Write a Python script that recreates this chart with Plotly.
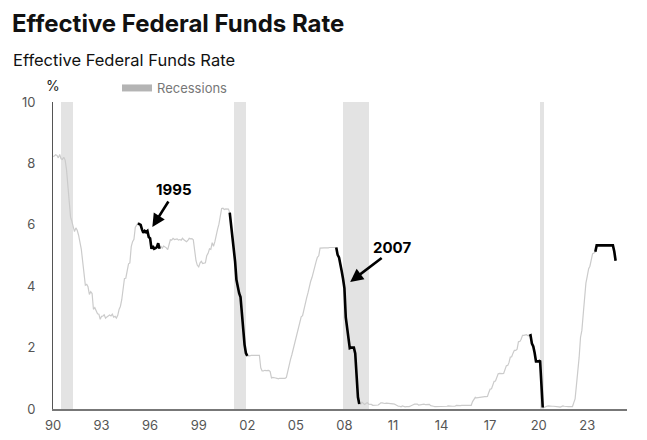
import pandas as pd
import plotly.graph_objects as go

# Monthly effective federal funds rate (%), Jan 1990 - Oct 2024
start_month = "1990-01-01"
rate = [
    8.23, 8.24, 8.28, 8.26, 8.18, 8.29, 8.15, 8.13, 8.20, 8.11, 7.81, 7.31,  # 1990
    6.91, 6.25, 6.12, 5.91, 5.78, 5.90, 5.82, 5.66, 5.45, 5.21, 4.81, 4.43,  # 1991
    4.03, 4.06, 3.98, 3.73, 3.82, 3.76, 3.25, 3.30, 3.22, 3.10, 3.09, 2.92,  # 1992
    3.02, 3.03, 3.07, 2.96, 3.00, 3.04, 3.06, 3.03, 3.09, 2.99, 3.02, 2.96,  # 1993
    3.05, 3.25, 3.34, 3.56, 4.01, 4.25, 4.26, 4.47, 4.73, 4.76, 5.29, 5.45,  # 1994
    5.53, 5.92, 5.98, 6.05, 6.01, 6.00, 5.85, 5.74, 5.80, 5.76, 5.80, 5.60,  # 1995
    5.56, 5.22, 5.31, 5.22, 5.24, 5.27, 5.40, 5.22, 5.30, 5.24, 5.31, 5.29,  # 1996
    5.25, 5.19, 5.39, 5.51, 5.50, 5.56, 5.52, 5.54, 5.54, 5.50, 5.52, 5.50,  # 1997
    5.56, 5.51, 5.49, 5.45, 5.49, 5.56, 5.54, 5.55, 5.51, 5.07, 4.83, 4.68,  # 1998
    4.63, 4.76, 4.81, 4.74, 4.74, 4.76, 4.99, 5.07, 5.22, 5.20, 5.42, 5.30,  # 1999
    5.45, 5.73, 5.85, 6.02, 6.27, 6.53, 6.54, 6.50, 6.52, 6.51, 6.51, 6.40,  # 2000
    5.98, 5.49, 5.31, 4.80, 4.21, 3.97, 3.77, 3.65, 3.07, 2.49, 2.09, 1.82,  # 2001
    1.73, 1.74, 1.73, 1.75, 1.75, 1.75, 1.73, 1.74, 1.75, 1.75, 1.34, 1.24,  # 2002
    1.24, 1.26, 1.25, 1.26, 1.26, 1.22, 1.01, 1.03, 1.01, 1.01, 1.00, 0.98,  # 2003
    1.00, 1.01, 1.00, 1.00, 1.00, 1.03, 1.26, 1.43, 1.61, 1.76, 1.93, 2.16,  # 2004
    2.28, 2.50, 2.63, 2.79, 3.00, 3.04, 3.26, 3.50, 3.62, 3.78, 4.00, 4.16,  # 2005
    4.29, 4.49, 4.59, 4.79, 4.94, 4.99, 5.24, 5.25, 5.25, 5.25, 5.25, 5.24,  # 2006
    5.25, 5.26, 5.26, 5.25, 5.25, 5.25, 5.26, 5.02, 4.94, 4.76, 4.49, 4.24,  # 2007
    3.94, 2.98, 2.61, 2.28, 1.98, 2.00, 2.01, 2.00, 1.81, 0.97, 0.39, 0.16,  # 2008
    0.15, 0.22, 0.18, 0.15, 0.18, 0.21, 0.16, 0.16, 0.15, 0.12, 0.12, 0.12,  # 2009
    0.11, 0.13, 0.16, 0.20, 0.20, 0.18, 0.18, 0.19, 0.19, 0.19, 0.19, 0.18,  # 2010
    0.17, 0.16, 0.14, 0.10, 0.09, 0.09, 0.07, 0.10, 0.08, 0.07, 0.08, 0.07,  # 2011
    0.08, 0.10, 0.13, 0.14, 0.16, 0.16, 0.16, 0.13, 0.14, 0.16, 0.16, 0.16,  # 2012
    0.14, 0.15, 0.14, 0.15, 0.11, 0.09, 0.09, 0.08, 0.08, 0.09, 0.08, 0.09,  # 2013
    0.07, 0.07, 0.08, 0.09, 0.09, 0.10, 0.09, 0.09, 0.09, 0.09, 0.09, 0.12,  # 2014
    0.11, 0.11, 0.11, 0.12, 0.12, 0.13, 0.13, 0.14, 0.14, 0.12, 0.12, 0.24,  # 2015
    0.34, 0.38, 0.36, 0.37, 0.37, 0.38, 0.39, 0.40, 0.40, 0.40, 0.41, 0.54,  # 2016
    0.65, 0.66, 0.79, 0.90, 0.91, 1.04, 1.15, 1.16, 1.15, 1.15, 1.16, 1.30,  # 2017
    1.41, 1.42, 1.51, 1.69, 1.70, 1.82, 1.91, 1.91, 1.95, 2.19, 2.20, 2.27,  # 2018
    2.40, 2.40, 2.41, 2.42, 2.39, 2.38, 2.40, 2.13, 2.04, 1.83, 1.55, 1.55,  # 2019
    1.55, 1.58, 0.65, 0.05, 0.05, 0.08, 0.09, 0.10, 0.09, 0.09, 0.09, 0.09,  # 2020
    0.09, 0.08, 0.07, 0.07, 0.06, 0.08, 0.10, 0.09, 0.08, 0.08, 0.08, 0.08,  # 2021
    0.08, 0.08, 0.20, 0.33, 0.77, 1.21, 1.68, 2.33, 2.56, 3.08, 3.78, 4.10,  # 2022
    4.33, 4.57, 4.65, 4.83, 5.06, 5.08, 5.12, 5.33, 5.33, 5.33, 5.33, 5.33,  # 2023
    5.33, 5.33, 5.33, 5.33, 5.33, 5.33, 5.33, 5.33, 5.13, 4.83,              # 2024
]

# Highlighted easing periods (drawn in black)
easing_periods = [
    ("1995-04-01", "1996-08-01"),
    ("2000-12-01", "2002-01-01"),
    ("2007-07-01", "2008-12-01"),
    ("2019-06-01", "2020-04-01"),
    ("2023-07-01", "2024-10-01"),
]

# NBER recessions
recessions = [
    ("1990-07-01", "1991-03-31"),
    ("2001-03-01", "2001-11-30"),
    ("2007-12-01", "2009-06-30"),
    ("2020-02-01", "2020-04-30"),
]

# Callouts: label, arrow head (date, value)
callouts = [
    ("1995", "1996-02-20", 5.93),
    ("2007", "2008-05-10", 4.14),
]

tick_years = [1990, 1993, 1996, 1999, 2002, 2005, 2008, 2011, 2014, 2017, 2020, 2023]
tick_labels = ["90", "93", "96", "99", "02", "05", "08", "11", "14", "17", "20", "23"]
y_ticks = [0, 2, 4, 6, 8, 10]

dates = pd.date_range(start_month, periods=len(rate), freq="MS")
df = pd.DataFrame({"date": dates, "rate": rate})

fig = go.Figure()

# Recession bars
rec_start = pd.to_datetime([r[0] for r in recessions])
rec_end = pd.to_datetime([r[1] for r in recessions])
rec_mid = rec_start + (rec_end - rec_start) / 2
rec_width = [(e - s).total_seconds() * 1000 for s, e in zip(rec_start, rec_end)]
fig.add_trace(go.Bar(
    x=rec_mid, y=[10] * len(recessions), width=rec_width,
    marker=dict(color="#e3e3e3", line=dict(width=0)),
    showlegend=False, hoverinfo="skip",
))
# Legend entry for recessions
fig.add_trace(go.Scatter(
    x=[None], y=[None], mode="lines", name="Recessions",
    line=dict(color="#b4b4b4", width=7),
))

# Full series (grey)
fig.add_trace(go.Scatter(
    x=df["date"], y=df["rate"], mode="lines",
    line=dict(color="#cbcbcb", width=1.2), showlegend=False,
))

# Easing periods (black)
for s, e in easing_periods:
    sub = df[(df["date"] >= s) & (df["date"] <= e)]
    fig.add_trace(go.Scatter(
        x=sub["date"], y=sub["rate"], mode="lines",
        line=dict(color="#000000", width=2.6), showlegend=False,
    ))

# Callouts
offsets = [(17, -27, 22, -37), (33, -25, 42, -34)]
for (label, d, v), (ax, ay, tx, ty) in zip(callouts, offsets):
    fig.add_annotation(
        x=d, y=v, ax=ax, ay=ay, text="", showarrow=True,
        arrowhead=2, arrowsize=1, arrowwidth=2.6, arrowcolor="#000000",
        xref="x", yref="y",
    )
    fig.add_annotation(
        x=d, y=v, text="<b>%s</b>" % label, showarrow=True,
        arrowcolor="rgba(0,0,0,0)", ax=tx, ay=ty,
        font=dict(size=15, color="#000000", family="Inter"),
        xref="x", yref="y",
    )

# The page body adds an 8px offset; figure coordinates compensate for it.
OFF = 8
L, T, R, B = 53 - OFF, 102 - OFF, 20, 31
W, H = 647 - OFF, 440 - OFF
PW, PH = W - L - R, H - T - B

fig.add_annotation(
    text="%", x=0, y=1.0, xref="paper", yref="paper",
    xanchor="center", yanchor="bottom", yshift=6, showarrow=False,
    font=dict(size=14, color="#222222", family="Inter"),
)
fig.add_annotation(
    text="<b>Effective Federal Funds Rate</b>",
    x=(11 - OFF - L) / PW, y=1 + (T - (24 - OFF)) / PH, xref="paper", yref="paper",
    xanchor="left", yanchor="middle", showarrow=False, borderpad=0,
    font=dict(size=24, color="#111111", family="Inter"),
)
fig.add_annotation(
    text="Effective Federal Funds Rate",
    x=(11 - OFF - L) / PW, y=1 + (T - (60 - OFF)) / PH, xref="paper", yref="paper",
    xanchor="left", yanchor="middle", showarrow=False,
    font=dict(size=16.5, color="#111111", family="Inter"),
)

fig.update_layout(
    width=W, height=H,
    margin=dict(l=L, r=R, t=T, b=B, autoexpand=False),
    paper_bgcolor="white", plot_bgcolor="white",
    font=dict(family="Inter", color="#555555", size=13),
    bargap=0,
    legend=dict(
        orientation="h", x=(117 - OFF - L) / PW, y=1 + (T - (88 - OFF)) / PH,
        xanchor="left", yanchor="middle",
        font=dict(size=13, color="#777777"), bgcolor="rgba(0,0,0,0)",
    ),
    showlegend=True,
)

fig.update_xaxes(
    type="date", automargin=False,
    range=["1990-01-01", "2025-06-15"],
    tickvals=[pd.Timestamp(year=y, month=1, day=1) for y in tick_years],
    ticktext=tick_labels,
    showgrid=False, zeroline=False,
    showline=True, linecolor="#777777", linewidth=1.5,
    ticks="", ticklabelstandoff=4,
    tickfont=dict(size=13, color="#555555"),
)
fig.update_yaxes(
    range=[0, 10], tickvals=y_ticks, automargin=False,
    showgrid=False, zeroline=False,
    showline=True, linecolor="#555555", linewidth=1,
    ticks="", ticklabelstandoff=14,
    tickfont=dict(size=13, color="#555555"),
)

fig.write_html("out.html")
